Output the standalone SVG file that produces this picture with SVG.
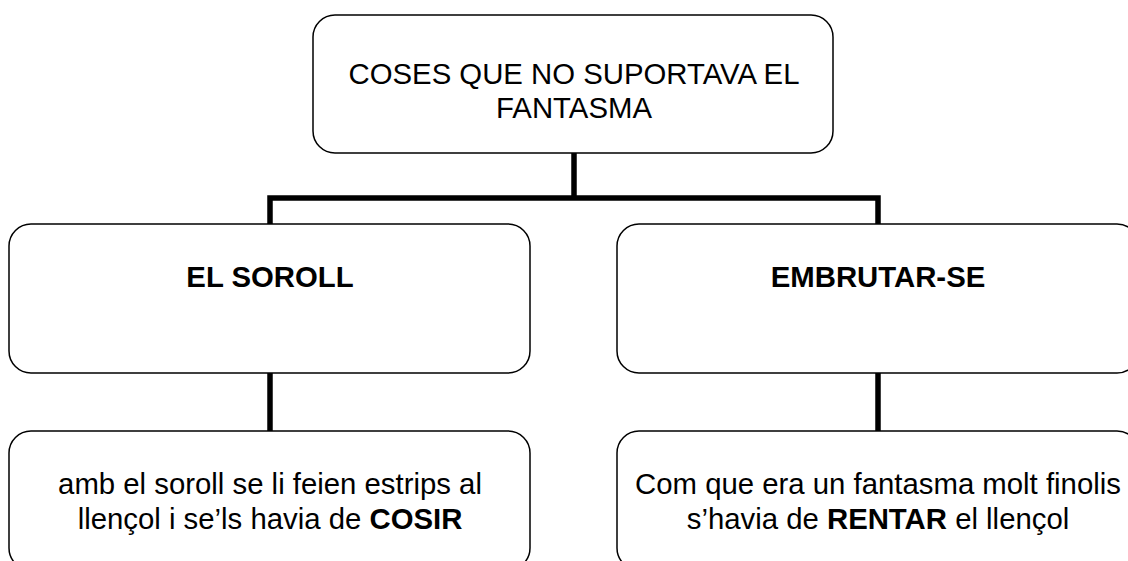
<svg xmlns="http://www.w3.org/2000/svg" width="1128" height="561" viewBox="0 0 1128 561">
<style>
.box{fill:#fff;stroke:#000;stroke-width:1.5}
.t{font-family:"Liberation Sans",Arial,sans-serif;font-size:29.33px;fill:#000;text-anchor:middle}
.b{font-weight:bold}
.conn{fill:none;stroke:#000;stroke-width:5.5;stroke-linejoin:miter;stroke-linecap:butt}
</style>
<rect width="1128" height="561" fill="#fff"/>
<g id="connectors">
<path class="conn" d="M574,153 V198"/>
<path class="conn" d="M270,224 V198 H878 V224"/>
<path class="conn" d="M270,373 V431"/>
<path class="conn" d="M878,373 V431"/>
</g>
<g id="root">
<rect class="box" x="313" y="15" width="520" height="138" rx="22" ry="22"/>
<text class="t" x="574" y="84">COSES QUE NO SUPORTAVA EL</text>
<text class="t" x="574" y="118">FANTASMA</text>
</g>
<g id="soroll">
<rect class="box" x="9" y="224" width="521" height="149" rx="22" ry="22"/>
<text class="t b" x="270" y="287">EL SOROLL</text>
</g>
<g id="embrutar">
<rect class="box" x="617" y="224" width="522" height="149" rx="22" ry="22"/>
<text class="t b" x="878" y="287">EMBRUTAR-SE</text>
</g>
<g id="cosir">
<rect class="box" x="9" y="431" width="521" height="139" rx="22" ry="22"/>
<text class="t" x="270" y="494">amb el soroll se li feien estrips al</text>
<text class="t" x="270" y="529">llençol i se’ls havia de <tspan class="b">COSIR</tspan></text>
</g>
<g id="rentar">
<rect class="box" x="617" y="431" width="522" height="139" rx="22" ry="22"/>
<text class="t" x="878" y="494">Com que era un fantasma molt finolis</text>
<text class="t" x="878" y="529">s’havia de <tspan class="b">RENTAR</tspan> el llençol</text>
</g>
</svg>
